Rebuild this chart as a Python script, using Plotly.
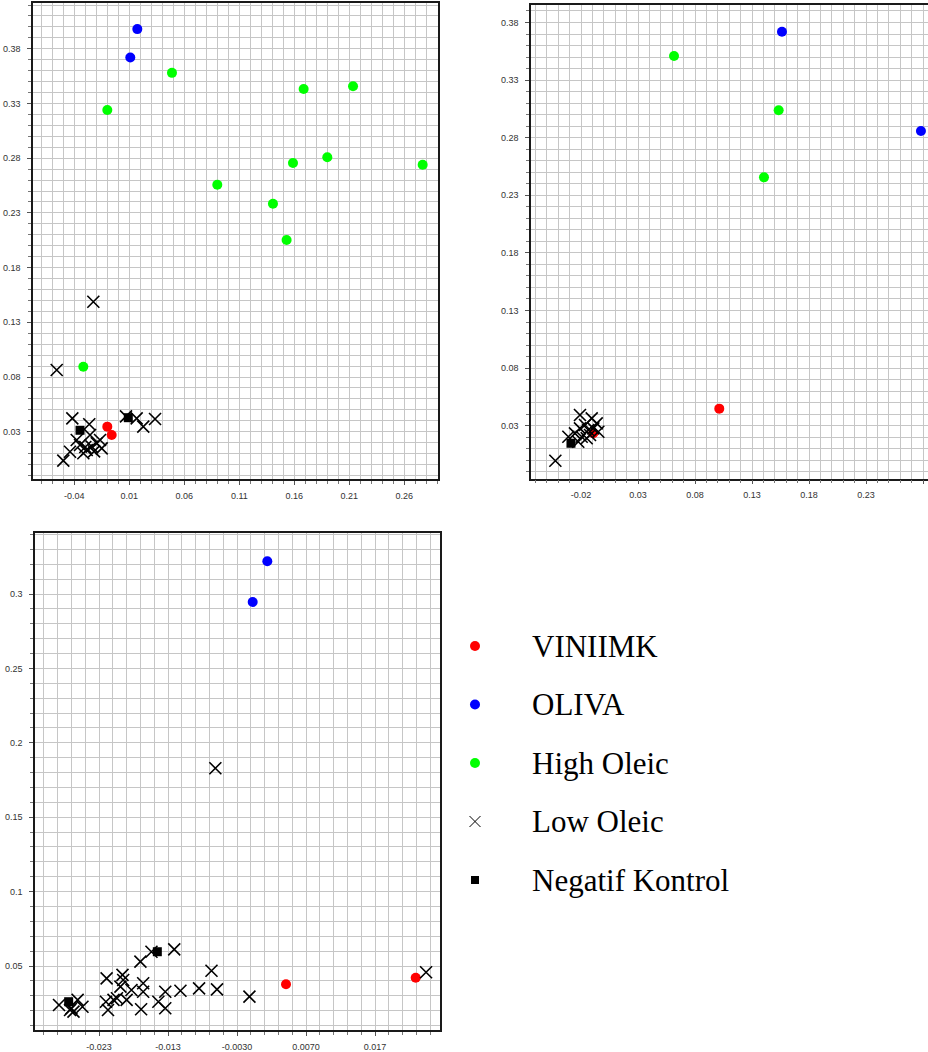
import plotly.graph_objects as go

# ---------------- data ----------------
# Panel 1
p1_viniimk_x = [-0.0100, -0.0060]
p1_viniimk_y = [0.0346, 0.0270]
p1_oliva_x = [0.0173, 0.0109]
p1_oliva_y = [0.398, 0.372]
p1_high_x = [-0.0100, 0.0488, 0.0900, 0.1406, 0.1530, 0.1588, 0.1685, 0.1900, 0.2134, 0.2767, -0.0318]
p1_high_y = [0.324, 0.358, 0.2558, 0.2384, 0.2052, 0.2756, 0.3433, 0.2808, 0.3457, 0.2740, 0.0894]
p1_low_x = [-0.0227, -0.0560, -0.0418, -0.0264, -0.0378, -0.0500, -0.0439, -0.0257, -0.0287,
            -0.0242, -0.0196, -0.0151, -0.0166, -0.0318, -0.0348, -0.0300, -0.0220, 0.0070,
            0.0167, 0.0227, 0.0334]
p1_low_y = [0.1488, 0.0864, 0.0422, 0.0368, 0.0224, 0.0035, 0.0117, 0.0270, 0.0133,
            0.0163, 0.0194, 0.0148, 0.0224, 0.0103, 0.0178, 0.0160, 0.0120, 0.0440,
            0.0422, 0.0346, 0.0416]
p1_neg_x = [-0.0348, 0.0091]
p1_neg_y = [0.0313, 0.0428]

# Panel 2
p2_viniimk_x = [0.1013, -0.0092]
p2_viniimk_y = [0.0448, 0.0234]
p2_oliva_x = [0.1563, 0.2782]
p2_oliva_y = [0.372, 0.2858]
p2_high_x = [0.0616, 0.1534, 0.1405]
p2_high_y = [0.351, 0.3038, 0.2456]
p2_low_x = [-0.0425, -0.0209, -0.0106, -0.0062, -0.0048, -0.0311, -0.0253, -0.0209,
            -0.0165, -0.0136, -0.0194, -0.0224, -0.0121, -0.0092, -0.0150]
p2_low_y = [-0.0004, 0.0393, 0.0364, 0.0320, 0.0248, 0.0204, 0.0234, 0.0277,
            0.0306, 0.0263, 0.0204, 0.0161, 0.0219, 0.0277, 0.0191]
p2_neg_x = [-0.0288]
p2_neg_y = [0.0147]

# Panel 3
p3_viniimk_x = [0.0041, 0.0229]
p3_viniimk_y = [0.0377, 0.0421]
p3_oliva_x = [0.00139, -0.00073]
p3_oliva_y = [0.322, 0.2946]
p3_low_x = [-0.00614, 0.0244, -0.0288, -0.0272, -0.0267, -0.0270, -0.0261, -0.0254,
            -0.0219, -0.0220, -0.0217, -0.0209, -0.0204, -0.0196, -0.0195, -0.0199,
            -0.0190, -0.0183, -0.0170, -0.0166, -0.0166, -0.0169, -0.0154, -0.0144,
            -0.0134, -0.0134, -0.0121, -0.0112, -0.0085, -0.0067, -0.0059, -0.0012]
p3_low_y = [0.1829, 0.0458, 0.0238, 0.0204, 0.0193, 0.0216, 0.0272, 0.0226,
            0.0417, 0.0260, 0.0204, 0.0272, 0.0283, 0.0440, 0.0406, 0.0361,
            0.0272, 0.0339, 0.0529, 0.0384, 0.0327, 0.0209, 0.0596, 0.0260,
            0.0327, 0.0216, 0.0612, 0.0334, 0.0350, 0.0468, 0.0343, 0.0294]
p3_neg_x = [-0.0274, -0.01455]
p3_neg_y = [0.0260, 0.0596]

# Tick labels
p1_xticks = [-0.04, 0.01, 0.06, 0.11, 0.16, 0.21, 0.26]
p1_xtext = ["-0.04", "0.01", "0.06", "0.11", "0.16", "0.21", "0.26"]
p1_yticks = [0.03, 0.08, 0.13, 0.18, 0.23, 0.28, 0.33, 0.38]
p1_ytext = ["0.03", "0.08", "0.13", "0.18", "0.23", "0.28", "0.33", "0.38"]
p2_xticks = [-0.02, 0.03, 0.08, 0.13, 0.18, 0.23, 0.28]
p2_xtext = ["-0.02", "0.03", "0.08", "0.13", "0.18", "0.23", "0.28"]
p2_yticks = [0.03, 0.08, 0.13, 0.18, 0.23, 0.28, 0.33, 0.38]
p2_ytext = ["0.03", "0.08", "0.13", "0.18", "0.23", "0.28", "0.33", "0.38"]
p3_xticks = [-0.023, -0.013, -0.003, 0.007, 0.017]
p3_xtext = ["-0.023", "-0.013", "-0.0030", "0.0070", "0.017"]
p3_yticks = [0.05, 0.1, 0.15, 0.2, 0.25, 0.3]
p3_ytext = ["0.05", "0.1", "0.15", "0.2", "0.25", "0.3"]

legend_labels = ["VINIIMK", "OLIVA", "High Oleic", "Low Oleic", "Negatif Kontrol"]

# ---------------- styles ----------------
RED, BLUE, GREEN, BLACK = "#ff0000", "#0000ff", "#00ff00", "#000000"
dot = dict(symbol="circle", size=10, line=dict(width=0))
cross = dict(symbol="x-thin", size=12, color=BLACK, line=dict(width=1.6, color=BLACK))
square = dict(symbol="square", size=9, color=BLACK, line=dict(width=0))

fig = go.Figure()


def add_panel(n, vin, oli, high, low, neg):
    xa, ya = ("x", "y") if n == 1 else (f"x{n}", f"y{n}")
    if vin:
        fig.add_trace(go.Scatter(x=vin[0], y=vin[1], mode="markers", xaxis=xa, yaxis=ya,
                                 marker=dict(dot, color=RED), showlegend=False))
    if oli:
        fig.add_trace(go.Scatter(x=oli[0], y=oli[1], mode="markers", xaxis=xa, yaxis=ya,
                                 marker=dict(dot, color=BLUE), showlegend=False))
    if high:
        fig.add_trace(go.Scatter(x=high[0], y=high[1], mode="markers", xaxis=xa, yaxis=ya,
                                 marker=dict(dot, color=GREEN), showlegend=False))
    if low:
        fig.add_trace(go.Scatter(x=low[0], y=low[1], mode="markers", xaxis=xa, yaxis=ya,
                                 marker=cross, showlegend=False))
    if neg:
        fig.add_trace(go.Scatter(x=neg[0], y=neg[1], mode="markers", xaxis=xa, yaxis=ya,
                                 marker=square, showlegend=False))


add_panel(1, (p1_viniimk_x, p1_viniimk_y), (p1_oliva_x, p1_oliva_y), (p1_high_x, p1_high_y),
          (p1_low_x, p1_low_y), (p1_neg_x, p1_neg_y))
add_panel(2, (p2_viniimk_x, p2_viniimk_y), (p2_oliva_x, p2_oliva_y), (p2_high_x, p2_high_y),
          (p2_low_x, p2_low_y), (p2_neg_x, p2_neg_y))
add_panel(3, (p3_viniimk_x, p3_viniimk_y), (p3_oliva_x, p3_oliva_y), None,
          (p3_low_x, p3_low_y), (p3_neg_x, p3_neg_y))

# Legend block drawn on its own hidden axes
leg_rows = list(range(len(legend_labels)))
leg_markers = [dict(symbol="circle", size=10, color=RED),
               dict(symbol="circle", size=10, color=BLUE),
               dict(symbol="circle", size=10, color=GREEN),
               dict(symbol="x-thin", size=11, color=BLACK, line=dict(width=1, color=BLACK)),
               dict(symbol="square", size=8, color=BLACK)]
for row, mk in zip(leg_rows, leg_markers):
    fig.add_trace(go.Scatter(x=[0], y=[row], mode="markers", xaxis="x4", yaxis="y4",
                             marker=mk, showlegend=False))
annotations = [dict(x=1, y=row, xref="x4", yref="y4", text=lab, showarrow=False,
                    xanchor="left", yanchor="middle",
                    font=dict(family="Liberation Serif", size=31, color="#000"))
               for row, lab in zip(leg_rows, legend_labels)]

W, H = 928, 1052
GRID = "#c6c6c6"
TICKFONT = dict(family="Liberation Sans", size=9, color="#333333")


def px_x(a, b):
    return [a / W, b / W]


def px_y(top, bottom):
    return [1 - bottom / H, 1 - top / H]


def xaxis(domain, rng, vals, text, tick0, minor_dtick, anchor):
    return dict(domain=domain, range=rng, anchor=anchor, tickmode="array", tickvals=vals,
                ticktext=text, tickfont=TICKFONT, showgrid=True, gridcolor=GRID, gridwidth=1,
                ticks="outside", ticklen=4, tickcolor="#555", zeroline=False,
                showline=True, linecolor="#1a1a1a", linewidth=1.5, mirror=True,
                ticklabelstandoff=3,
                minor=dict(tick0=tick0, dtick=minor_dtick, showgrid=True, gridcolor=GRID,
                           gridwidth=1, ticks="outside", ticklen=3, tickcolor="#777"))


def yaxis(domain, rng, vals, text, tick0, minor_dtick, anchor, mirror=True):
    d = xaxis(domain, rng, vals, text, tick0, minor_dtick, anchor)
    d["mirror"] = mirror
    d["ticklabelstandoff"] = 5
    return d


fig.update_layout(
    width=W, height=H, margin=dict(l=0, r=0, t=0, b=0),
    paper_bgcolor="white", plot_bgcolor="rgba(0,0,0,0)", showlegend=False,
    xaxis=xaxis(px_x(33, 438), [-0.07755, 0.29064], p1_xticks, p1_xtext, -0.04, 0.01, "y"),
    yaxis=yaxis(px_y(3, 479), [-0.01324, 0.42186], p1_yticks, p1_ytext, 0.03, 0.01, "x"),
    xaxis2=xaxis(px_x(531, 928), [-0.06386, 0.28439], p2_xticks, p2_xtext, -0.02, 0.01, "y2"),
    yaxis2=yaxis(px_y(5, 478.7), [-0.0160, 0.3952], p2_yticks, p2_ytext, 0.03, 0.01, "x2",
                 mirror=False),
    xaxis3=xaxis(px_x(35, 440), [-0.03228, 0.02642], p3_xticks, p3_xtext, -0.023, 0.002, "y3"),
    yaxis3=yaxis(px_y(533.3, 1030), [0.00699, 0.3408], p3_yticks, p3_ytext, 0.05, 0.01, "x3"),
    xaxis4=dict(domain=px_x(445, 915), range=[-0.5455, 8.0], visible=False, anchor="y4"),
    yaxis4=dict(domain=px_y(616.75, 909.25), range=[4.5, -0.5], visible=False, anchor="x4"),
    annotations=annotations,
)

fig.write_html("out.html")
